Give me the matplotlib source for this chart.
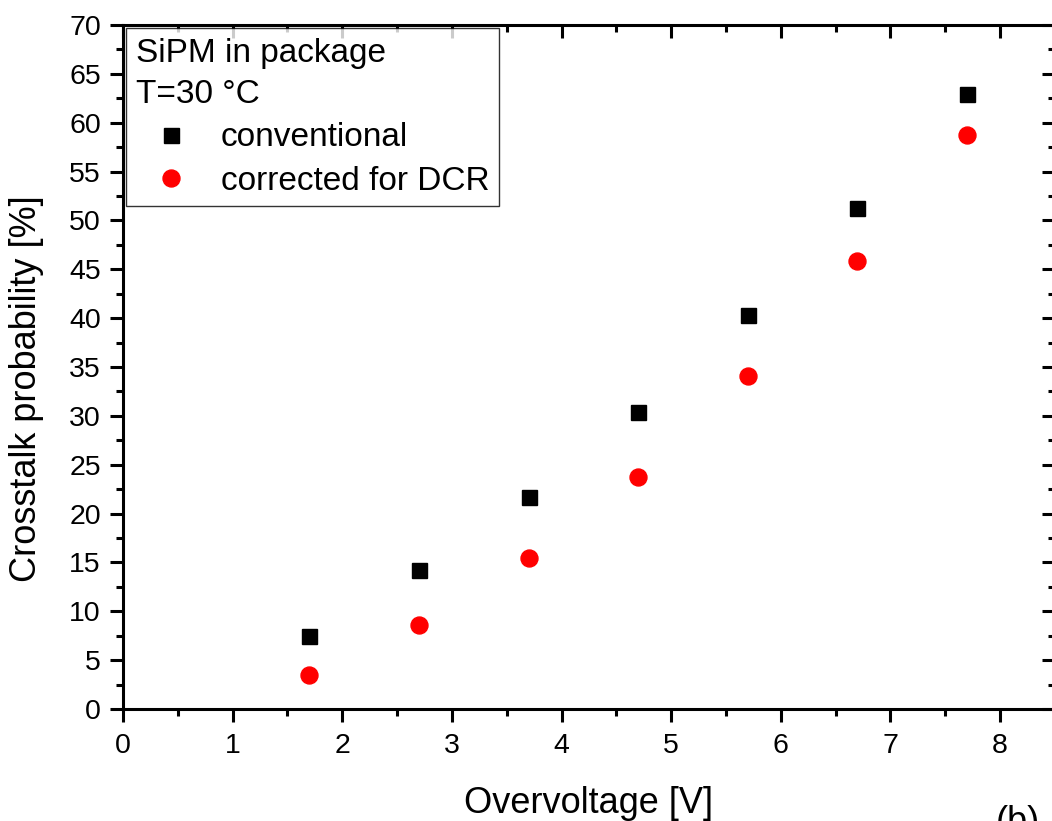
import matplotlib.pyplot as plt
from matplotlib.ticker import MultipleLocator

plt.rcParams['font.family'] = ['Liberation Sans', 'DejaVu Sans']

# data
overvoltage = [1.7, 2.7, 3.7, 4.7, 5.7, 6.7, 7.7]
xt_conventional = [7.5, 14.2, 21.7, 30.4, 40.3, 51.3, 62.9]
xt_corrected = [3.5, 8.6, 15.5, 23.7, 34.1, 45.9, 58.7]

legend_header = 'SiPM in package\nT=30 °C'
series_labels = ['conventional', 'corrected for DCR']

fig = plt.figure(figsize=(10.52, 8.21), dpi=100)
ax = fig.add_axes([0.117, 0.1364, 0.8856, 0.8331])

ax.plot(overvoltage, xt_conventional, 's', color='black', ms=10.8,
        label=series_labels[0], clip_on=False)
ax.plot(overvoltage, xt_corrected, 'o', color='red', ms=12.2,
        label=series_labels[1], clip_on=False)

ax.set_xlim(0, 8.5)
ax.set_ylim(0, 70)
ax.xaxis.set_major_locator(MultipleLocator(1))
ax.xaxis.set_minor_locator(MultipleLocator(0.5))
ax.yaxis.set_major_locator(MultipleLocator(5))
ax.yaxis.set_minor_locator(MultipleLocator(2.5))

for s in ax.spines.values():
    s.set_linewidth(2.2)

ax.tick_params(which='both', width=2.2, labelsize=20.5, top=True, right=True)
ax.tick_params(axis='x', which='both', direction='out', pad=8)
ax.tick_params(axis='y', which='both', direction='out', pad=6.5)
ax.tick_params(which='major', length=9.5)
ax.tick_params(which='minor', length=5)
# top and right ticks point inward
for t in ax.xaxis.get_major_ticks() + ax.xaxis.get_minor_ticks():
    t.tick2line.set_marker(3)
for t in ax.yaxis.get_major_ticks() + ax.yaxis.get_minor_ticks():
    t.tick2line.set_marker(0)

ax.set_xlabel('Overvoltage [V]', fontsize=26, labelpad=19)
ax.set_ylabel('Crosstalk probability [%]', fontsize=26)
ax.yaxis.set_label_coords(-0.085, 0.469)

leg = ax.legend(loc='upper left', title=legend_header, alignment='left',
                fontsize=24, title_fontsize=24, frameon=True,
                fancybox=False, edgecolor='black', borderaxespad=0.1,
                handletextpad=0.45, labelspacing=0.38, borderpad=0.28,
                handlelength=2.1)
leg.get_frame().set_linewidth(1.0)
leg._legend_title_box._text.set_linespacing(1.42)

fig.text(0.947, 0.0195, '(b)', fontsize=26, va='top', ha='left')

fig.savefig('out.png', dpi=100)
